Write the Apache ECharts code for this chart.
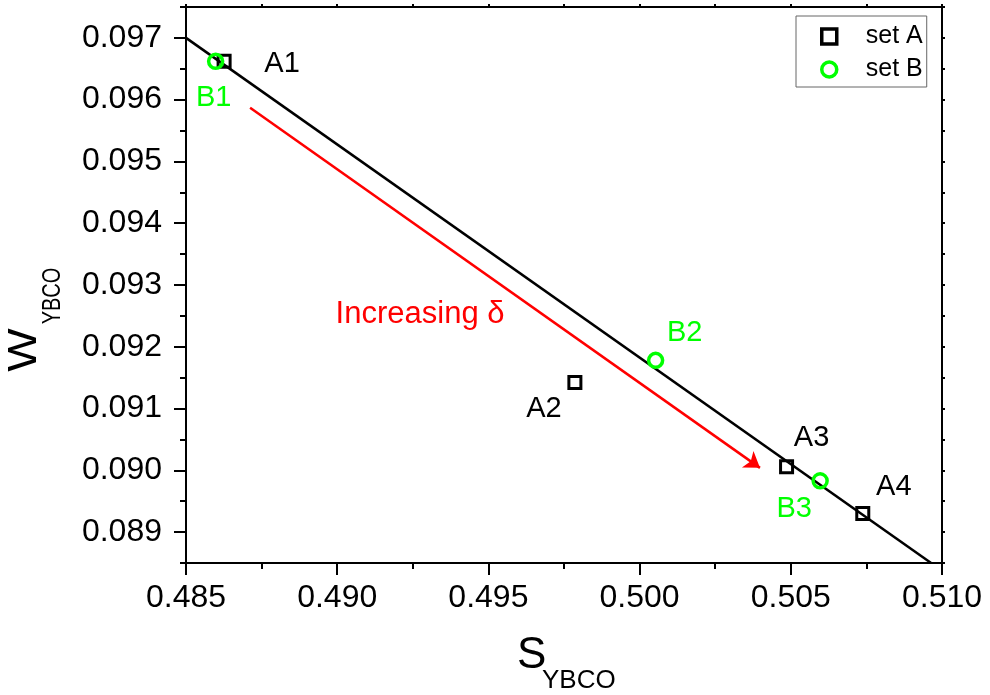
<!DOCTYPE html>
<html>
<head>
<meta charset="utf-8">
<script src="https://cdn.jsdelivr.net/npm/echarts@6/dist/echarts.min.js"></script>
<style>
  html, body { margin: 0; padding: 0; background: #fff; }
  #main { width: 990px; height: 695px; }
</style>
</head>
<body>
<div id="main"></div>
<script>
// Measured points (S = x, W = y)
const setANames = ['A1', 'A2', 'A3', 'A4'];
const setAS = [0.48626, 0.49786, 0.50486, 0.50738];
const setAW = [0.09662, 0.09142, 0.09006, 0.08930];

const setBNames = ['B1', 'B2', 'B3'];
const setBS = [0.48598, 0.50053, 0.50597];
const setBW = [0.09662, 0.09178, 0.08983];

// Straight reference line through the data
const fitS = [0.48500, 0.50964];
const fitW = [0.09700, 0.08850];

// Arrow showing the direction of increasing delta
const arrowS = [0.48712, 0.50398];
const arrowW = [0.09587, 0.09004];
const arrowText = 'Increasing δ';
const arrowTextAt = [0.49274, 0.09252];

// Axis ticks
const yMajorTicks = [0.089, 0.090, 0.091, 0.092, 0.093, 0.094, 0.095, 0.096, 0.097];

const FONT = '"Liberation Sans", Arial, Helvetica, sans-serif';
const GREEN = '#00ff00';
const RED = '#ff0000';

// Label placement (pixel offsets from the marker centre)
const labelOffsetA = [[58, 3], [-31, 26], [25, -29], [31, -27]];
const labelOffsetB = [[-2, 37], [29, -27], [-26, 28]];

const axisLineStyle = { show: true, lineStyle: { color: '#000', width: 2 } };
const tickLine = { color: '#000', width: 2 };

const chart = echarts.init(document.getElementById('main'), null, { renderer: 'canvas' });

const option = {
  animation: false,
  backgroundColor: '#fff',
  grid: { left: 186, right: 48, top: 7, bottom: 132 },
  xAxis: [
    {
      type: 'value', position: 'bottom', min: 0.485, max: 0.510, interval: 0.005,
      axisLine: axisLineStyle,
      axisTick: { show: true, inside: false, length: 12, lineStyle: tickLine },
      minorTick: { show: true, splitNumber: 2, length: 6, lineStyle: tickLine },
      axisLabel: { margin: 19, fontSize: 32, color: '#000', fontFamily: FONT,
                   formatter: v => v.toFixed(3) },
      splitLine: { show: false }
    },
    {
      type: 'value', position: 'top', min: 0.485, max: 0.510, interval: 0.0025,
      axisLine: axisLineStyle,
      axisTick: { show: true, length: 3, lineStyle: tickLine },
      axisLabel: { show: false },
      splitLine: { show: false }
    }
  ],
  yAxis: [
    {
      type: 'value', position: 'left', min: 0.0885, max: 0.0975, interval: 0.0005,
      axisLine: axisLineStyle,
      axisTick: { show: true, length: 12, customValues: yMajorTicks, lineStyle: tickLine },
      axisLabel: { margin: 24, fontSize: 32, color: '#000', fontFamily: FONT,
                   customValues: yMajorTicks, formatter: v => v.toFixed(3) },
      splitLine: { show: false }
    },
    {
      type: 'value', position: 'left', min: 0.0885, max: 0.0975, interval: 0.0005,
      axisLine: { show: false },
      axisTick: { show: true, length: 6, lineStyle: tickLine },
      axisLabel: { show: false },
      splitLine: { show: false }
    },
    {
      type: 'value', position: 'right', min: 0.0885, max: 0.0975, interval: 0.0005,
      axisLine: axisLineStyle,
      axisTick: { show: true, length: 3, lineStyle: tickLine },
      axisLabel: { show: false },
      splitLine: { show: false }
    }
  ],
  legend: {
    orient: 'vertical', left: 796, top: 16,
    padding: [8, 4, 5, 24], itemWidth: 15, itemHeight: 15, itemGap: 8,
    backgroundColor: '#fff', borderColor: '#666', borderWidth: 1, borderRadius: 0,
    textStyle: { fontSize: 25, color: '#000', fontFamily: FONT, padding: [0, 0, 0, 24] },
    data: [
      { name: 'set A', icon: 'rect',
        itemStyle: { color: 'rgba(255,255,255,0)', borderColor: '#000', borderWidth: 3.5, opacity: 1 } },
      { name: 'set B', icon: 'circle',
        itemStyle: { color: 'rgba(255,255,255,0)', borderColor: GREEN, borderWidth: 3.5, opacity: 1 } }
    ]
  },
  series: [
    {
      name: 'fit', type: 'line', silent: true, z: 2,
      xAxisIndex: 0, yAxisIndex: 0,
      data: fitS.map((s, i) => [s, fitW[i]]),
      symbol: 'none', clip: true,
      lineStyle: { color: '#000', width: 2.5 },
      markLine: {
        silent: true, symbol: ['none', 'arrow'], symbolSize: 15,
        label: { show: false },
        lineStyle: { color: RED, width: 2.5, type: 'solid', opacity: 1 },
        itemStyle: { color: RED },
        data: [[{ coord: [arrowS[0], arrowW[0]] }, { coord: [arrowS[1], arrowW[1]] }]]
      },
      markPoint: {
        silent: true, symbol: 'circle', symbolSize: 0,
        label: { show: true, position: 'inside', formatter: arrowText,
                 color: RED, fontSize: 31, fontFamily: FONT },
        data: [{ coord: arrowTextAt }]
      }
    },
    {
      name: 'set A', type: 'scatter', z: 3,
      xAxisIndex: 0, yAxisIndex: 0,
      symbol: 'rect', symbolSize: 12,
      itemStyle: { color: 'rgba(255,255,255,0)', borderColor: '#000', borderWidth: 3, opacity: 1 },
      label: { show: true, position: 'inside', color: '#000', fontSize: 29, fontFamily: FONT,
               opacity: 1, formatter: p => p.name },
      data: setAS.map((s, i) => ({
        name: setANames[i], value: [s, setAW[i]], label: { offset: labelOffsetA[i] }
      }))
    },
    {
      name: 'set B', type: 'scatter', z: 4,
      xAxisIndex: 0, yAxisIndex: 0,
      symbol: 'circle', symbolSize: 14,
      itemStyle: { color: 'rgba(255,255,255,0)', borderColor: GREEN, borderWidth: 3.5, opacity: 1 },
      label: { show: true, position: 'inside', color: GREEN, fontSize: 29, fontFamily: FONT,
               opacity: 1, formatter: p => p.name },
      data: setBS.map((s, i) => ({
        name: setBNames[i], value: [s, setBW[i]], label: { offset: labelOffsetB[i] }
      }))
    }
  ],
  graphic: [
    // x-axis title: S with subscript
    { type: 'text', x: 517, y: 656, silent: true,
      style: { text: 'S', font: '44px ' + FONT, fill: '#000', verticalAlign: 'middle', align: 'left' } },
    { type: 'text', x: 542, y: 681, silent: true,
      style: { text: 'YBCO', font: '26px ' + FONT, fill: '#000', verticalAlign: 'middle', align: 'left' } },
    // y-axis title: W with subscript, rotated
    { type: 'text', x: 25, y: 350, rotation: Math.PI / 2, scaleX: 1.15, silent: true,
      style: { text: 'W', font: '40px ' + FONT, fill: '#000', verticalAlign: 'middle', align: 'center' } },
    { type: 'text', x: 53, y: 296, rotation: Math.PI / 2, scaleX: 0.8, silent: true,
      style: { text: 'YBCO', font: '25px ' + FONT, fill: '#000', verticalAlign: 'middle', align: 'center' } }
  ]
};

chart.setOption(option);
</script>
</body>
</html>
